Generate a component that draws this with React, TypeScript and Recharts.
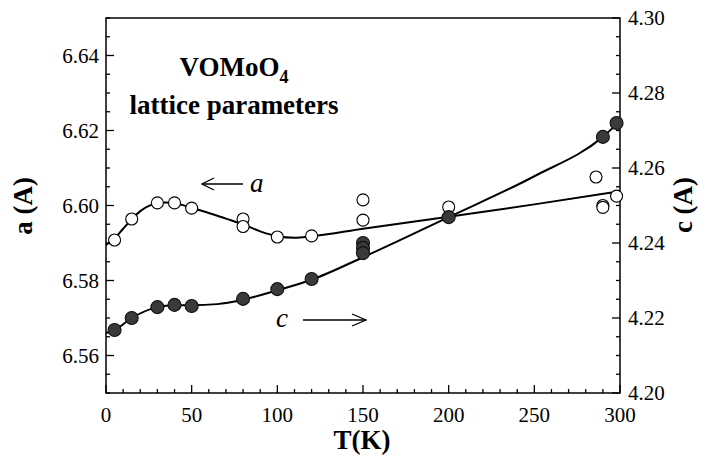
import React from 'react';
import { ComposedChart, Line, Scatter, XAxis, YAxis, ReferenceArea, Customized } from 'recharts';

// ---- tick labels ----
const tempTicks = [0, 10, 20, 30, 40, 50, 60, 70, 80, 90, 100, 110, 120, 130, 140, 150, 160, 170, 180, 190, 200, 210, 220, 230, 240, 250, 260, 270, 280, 290, 300];
const tempMajor = [0, 50, 100, 150, 200, 250, 300];
const aTicks = [6.55, 6.555, 6.56, 6.565, 6.57, 6.575, 6.58, 6.585, 6.59, 6.595, 6.6, 6.605, 6.61, 6.615, 6.62, 6.625, 6.63, 6.635, 6.64, 6.645, 6.65];
const aMajor = [6.56, 6.58, 6.6, 6.62, 6.64];
const cTicks = [4.2, 4.205, 4.21, 4.215, 4.22, 4.225, 4.23, 4.235, 4.24, 4.245, 4.25, 4.255, 4.26, 4.265, 4.27, 4.275, 4.28, 4.285, 4.29, 4.295, 4.3];
const cMajor = [4.2, 4.22, 4.24, 4.26, 4.28, 4.3];

// ---- measured points: lattice parameter a (open circles) ----
const aPointT = [5, 15, 30, 40, 50, 80, 80, 100, 120, 150, 150, 200, 286, 290, 290, 298];
const aPointV = [6.5908, 6.5964, 6.6007, 6.6007, 6.5993, 6.5964, 6.5944, 6.5916, 6.5919, 6.6015, 6.5961, 6.5996, 6.6076, 6.6000, 6.5995, 6.6025];

// ---- measured points: lattice parameter c (filled circles) ----
const cPointT = [5, 15, 30, 40, 50, 80, 100, 120, 150, 150, 150, 200, 290, 298];
const cPointV = [4.2168, 4.2200, 4.2229, 4.2235, 4.2232, 4.2251, 4.2277, 4.2304, 4.2400, 4.2387, 4.2373, 4.2469, 4.2683, 4.2720];

// ---- fitted guide curves ----
const aCurveT = [0, 5, 10, 15, 20, 25, 30, 35, 40, 45, 50, 60, 70, 80, 90, 100, 110, 120, 150, 200, 250, 296];
const aCurveV = [6.5895, 6.5912, 6.5938, 6.5963, 6.5985, 6.5999, 6.6006, 6.6008, 6.6006, 6.6001, 6.5994, 6.5980, 6.5965, 6.5950, 6.5931, 6.5918, 6.5914, 6.5918, 6.5938, 6.5970, 6.6003, 6.6035];
const cCurveT = [0, 5, 15, 30, 40, 50, 65, 80, 100, 120, 150, 200, 250, 290, 300];
const cCurveV = [4.2160, 4.2168, 4.2200, 4.2229, 4.2234, 4.2234, 4.2237, 4.2249, 4.2274, 4.2302, 4.2362, 4.2469, 4.2578, 4.2683, 4.2725];

const zip = (ts: number[], vs: number[]) => ts.map((T, i) => ({ T, v: vs[i] }));
const aPoints = zip(aPointT, aPointV);
const cPoints = zip(cPointT, cPointV);
const aCurve = zip(aCurveT, aCurveV);
const cCurve = zip(cCurveT, cCurveV);

const FONT = 'Liberation Serif';
const isIn = (list: number[], v: number) => list.some((m) => Math.abs(m - v) < 1e-6);

const BottomTick = (props: any) => {
  const { x, y, payload } = props;
  const major = isIn(tempMajor, payload.value);
  return (
    <g>
      <line x1={x} x2={x} y1={y} y2={y - (major ? 8 : 4)} stroke="#000" strokeWidth={1.3} />
      {major && (
        <text x={x} y={y + 29} textAnchor="middle" style={{ fontSize: 21, fontFamily: FONT }} fill="#000">
          {payload.value}
        </text>
      )}
    </g>
  );
};

const LeftTick = (props: any) => {
  const { x, y, payload } = props;
  const major = isIn(aMajor, payload.value);
  return (
    <g>
      <line x1={x} x2={x + (major ? 8 : 4)} y1={y} y2={y} stroke="#000" strokeWidth={1.3} />
      {major && (
        <text x={x - 7} y={y + 7} textAnchor="end" style={{ fontSize: 21, fontFamily: FONT }} fill="#000">
          {payload.value.toFixed(2)}
        </text>
      )}
    </g>
  );
};

const RightTick = (props: any) => {
  const { x, y, payload } = props;
  const major = isIn(cMajor, payload.value);
  return (
    <g>
      <line x1={x} x2={x - (major ? 8 : 4)} y1={y} y2={y} stroke="#000" strokeWidth={1.3} />
      {major && (
        <text x={x + 8} y={y + 7} textAnchor="start" style={{ fontSize: 21, fontFamily: FONT }} fill="#000">
          {payload.value.toFixed(2)}
        </text>
      )}
    </g>
  );
};

const OpenDot = (props: any) => (
  <circle cx={props.cx} cy={props.cy} r={6} fill="#fff" stroke="#000" strokeWidth={1.1} />
);
const FilledDot = (props: any) => (
  <circle cx={props.cx} cy={props.cy} r={6.5} fill="#3a3a3a" stroke="#111" strokeWidth={1.1} />
);

const T = (p: any) => <text {...p} style={{ fontFamily: FONT, ...(p.style || {}) }} />;

const Annotations = () => (
  <g fill="#000">
    <T x={234} y={76} textAnchor="middle" fontSize={27} fontWeight="bold">
      VOMoO<tspan dy={7} fontSize={18}>4</tspan>
    </T>
    <T x={234} y={114} textAnchor="middle" fontSize={27} fontWeight="bold">
      lattice parameters
    </T>
    {/* arrow to a */}
    <line x1={202} y1={184} x2={243} y2={184} stroke="#000" strokeWidth={1.3} />
    <polyline points="214,178 202,184 214,190" fill="none" stroke="#000" strokeWidth={1.3} />
    <T x={250} y={192} fontSize={27} fontStyle="italic">a</T>
    {/* arrow to c */}
    <T x={276} y={327} fontSize={27} fontStyle="italic">c</T>
    <line x1={303} y1={320} x2={366} y2={320} stroke="#000" strokeWidth={1.3} />
    <polyline points="352,314 366,320 352,326" fill="none" stroke="#000" strokeWidth={1.3} />
    {/* axis titles */}
    <T transform="translate(32,206) rotate(-90)" textAnchor="middle" fontSize={27} fontWeight="bold">
      a (A)
    </T>
    <T transform="translate(692,205) rotate(-90)" textAnchor="middle" fontSize={27} fontWeight="bold">
      c (A)
    </T>
    <T x={362} y={449} textAnchor="middle" fontSize={27} fontWeight="bold">
      T(K)
    </T>
  </g>
);

export default function App() {
  return (
    <div style={{ position: 'absolute', left: 0, top: 0, background: '#fff', fontFamily: FONT }}>
      <ComposedChart width={706} height={460} margin={{ top: 18, right: 26, bottom: 27, left: 46 }}>
        <XAxis
          xAxisId="t"
          dataKey="T"
          type="number"
          domain={[0, 300]}
          ticks={tempTicks}
          interval={0}
          height={40}
          tickSize={0}
          tickMargin={0}
          axisLine={false}
          tickLine={false}
          tick={<BottomTick />}
        />
        <YAxis
          yAxisId="a"
          dataKey="v"
          type="number"
          orientation="left"
          domain={[6.55, 6.65]}
          ticks={aTicks}
          interval={0}
          width={60}
          tickSize={0}
          tickMargin={0}
          axisLine={false}
          tickLine={false}
          tick={<LeftTick />}
        />
        <YAxis
          yAxisId="c"
          dataKey="v"
          type="number"
          orientation="right"
          domain={[4.2, 4.3]}
          ticks={cTicks}
          interval={0}
          width={60}
          tickSize={0}
          tickMargin={0}
          axisLine={false}
          tickLine={false}
          tick={<RightTick />}
        />
        <ReferenceArea
          xAxisId="t"
          yAxisId="a"
          x1={0}
          x2={300}
          y1={6.55}
          y2={6.65}
          fill="#fff"
          fillOpacity={0}
          stroke="#000"
          strokeWidth={1.5}
        />
        <Line
          xAxisId="t"
          yAxisId="a"
          data={aCurve}
          dataKey="v"
          type="monotone"
          stroke="#000"
          strokeWidth={2}
          dot={false}
          activeDot={false}
          isAnimationActive={false}
        />
        <Line
          xAxisId="t"
          yAxisId="c"
          data={cCurve}
          dataKey="v"
          type="monotone"
          stroke="#000"
          strokeWidth={2}
          dot={false}
          activeDot={false}
          isAnimationActive={false}
        />
        <Scatter xAxisId="t" yAxisId="a" data={aPoints} dataKey="v" shape={<OpenDot />} isAnimationActive={false} />
        <Scatter xAxisId="t" yAxisId="c" data={cPoints} dataKey="v" shape={<FilledDot />} isAnimationActive={false} />
        <Customized component={Annotations} />
      </ComposedChart>
    </div>
  );
}
